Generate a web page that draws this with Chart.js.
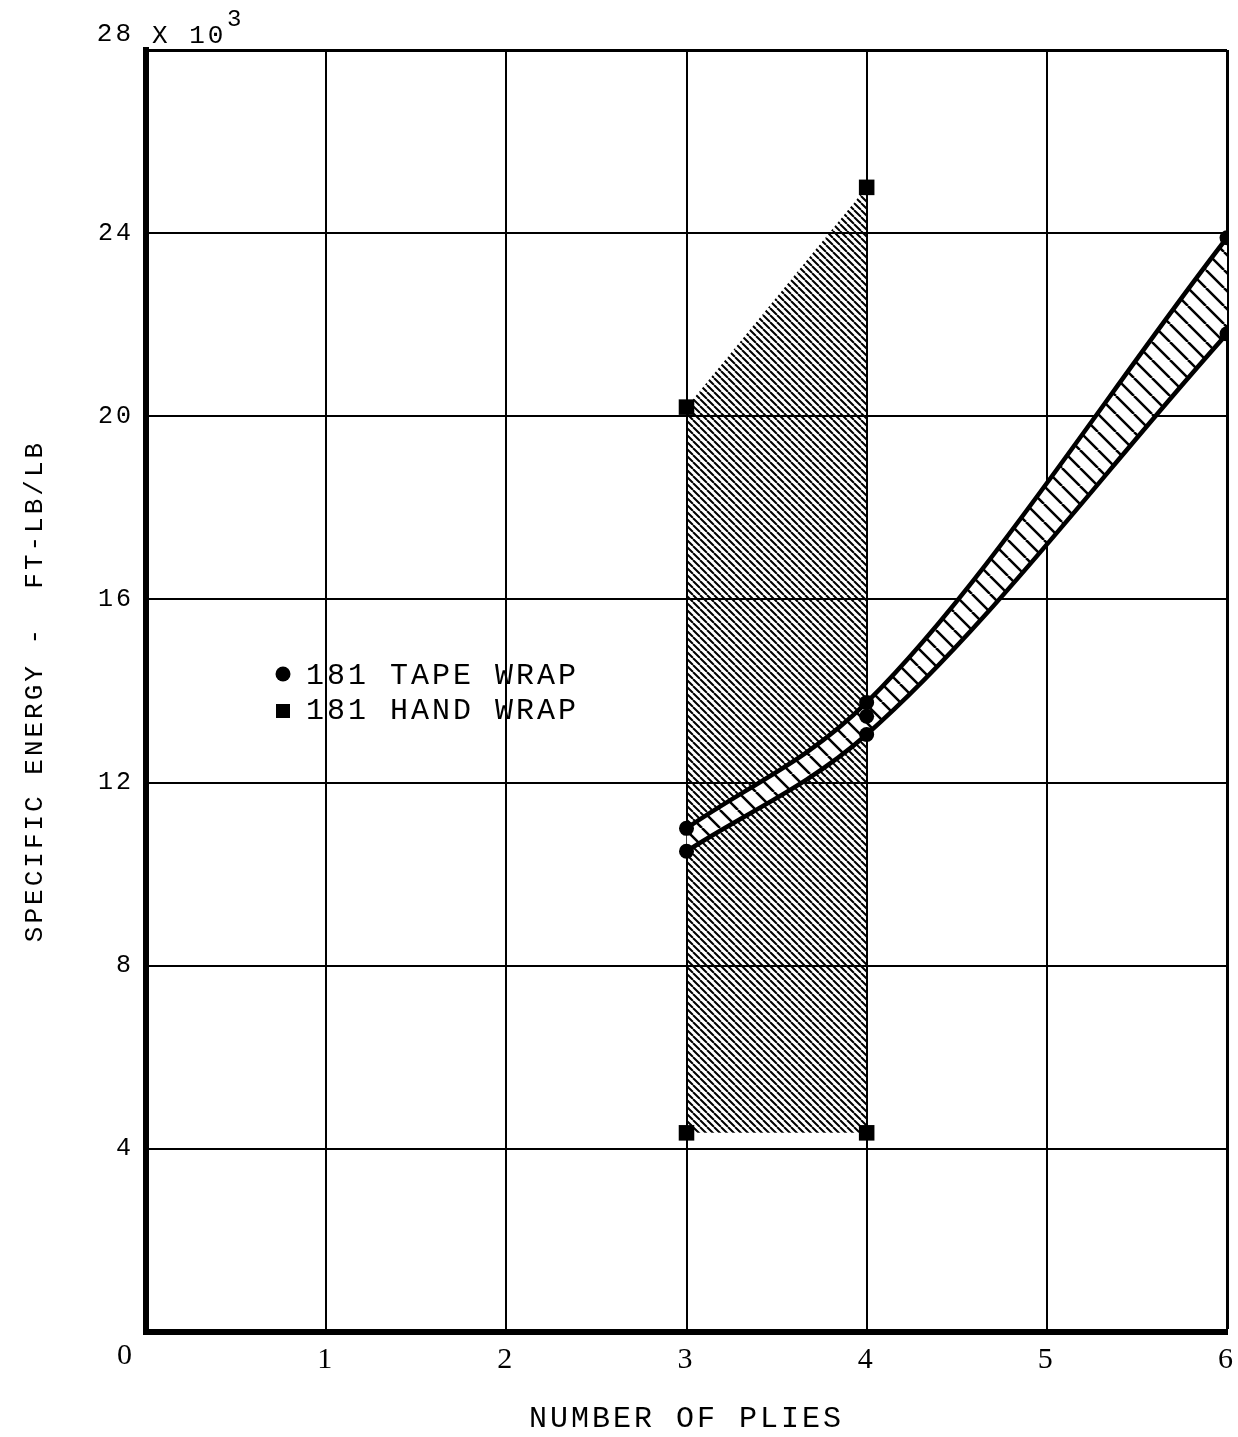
<!DOCTYPE html>
<html>
<head>
<meta charset="utf-8">
<script src="https://cdn.jsdelivr.net/npm/chart.js@4/dist/chart.umd.min.js"></script>
<style>
  html, body { margin: 0; padding: 0; background: #fff; }
  canvas { display: block; }
</style>
</head>
<body>
<canvas id="plies-chart" width="1238" height="1437"></canvas>
<script>
// values (specific energy in thousands of ft-lb/lb)
const plies = [3, 4, 6];
const tapeUpper = [11.0, 13.75, 23.9];
const tapeLower = [10.5, 13.05, 21.8];
const tapeMidPlies = [4];
const tapeMid = [13.45];
const handPlies = [3, 4];
const handUpper = [20.2, 25.0];
const handLower = [4.35, 4.35];
const xTicks = [0, 1, 2, 3, 4, 5, 6];
const yTicks = [0, 4, 8, 12, 16, 20, 24, 28];

const pts = (xs, ys) => xs.map((x, i) => ({x: x, y: ys[i]}));

// diagonal hatch "\" as a repeating pattern
function hatch(size, lw, bg) {
    const c = document.createElement('canvas');
    c.width = size; c.height = size;
    const g = c.getContext('2d');
    if (bg) { g.fillStyle = bg; g.fillRect(0, 0, size, size); }
    g.strokeStyle = '#000';
    g.lineWidth = lw;
    g.beginPath();
    for (let k = -1; k <= 1; k++) {
        g.moveTo(k * size, 0);
        g.lineTo(k * size + size, size);
    }
    g.stroke();
    return g.createPattern(c, 'repeat');
}

const handHatch = hatch(7, 2, null);
const bandHatch = hatch(18, 2.5, '#fff');

const typewriter = 'Liberation Mono';

const textPlugin = {
    id: 'textPlugin',
    beforeDraw(chart) {
        chart.ctx.letterSpacing = '3px';
    },
    afterDraw(chart) {
        const ctx = chart.ctx;
        ctx.save();
        ctx.fillStyle = '#000';
        ctx.textBaseline = 'middle';

        // axis multiplier at the top
        ctx.font = '26px "' + typewriter + '"';
        ctx.textAlign = 'right';
        ctx.fillText('28', 134, 34);
        ctx.textAlign = 'left';
        ctx.fillText('X 10', 152, 36);
        ctx.font = '24px "' + typewriter + '"';
        ctx.fillText('3', 227, 20);

        // shared origin label
        ctx.font = '30px "Liberation Serif"';
        ctx.textAlign = 'center';
        ctx.fillText('0', 126, 1356);

        // legend
        ctx.beginPath();
        ctx.arc(283, 674, 7.5, 0, Math.PI * 2);
        ctx.fill();
        ctx.fillRect(276, 704, 14, 14);
        ctx.font = '30px "' + typewriter + '"';
        ctx.textAlign = 'left';
        ctx.fillText('181 TAPE WRAP', 306, 676);
        ctx.fillText('181 HAND WRAP', 306, 711);
        ctx.restore();
    }
};

new Chart(document.getElementById('plies-chart'), {
    type: 'scatter',
    data: {
        datasets: [{
            label: 'tape mid',
            data: pts(tapeMidPlies, tapeMid),
            pointRadius: 7.5,
            pointBackgroundColor: '#000',
            pointBorderWidth: 0,
            showLine: false
        }, {
            label: '181 TAPE WRAP upper',
            data: pts(plies, tapeUpper),
            showLine: true,
            borderColor: '#000',
            borderWidth: 4.5,
            cubicInterpolationMode: 'monotone',
            pointRadius: 7.5,
            pointBackgroundColor: '#000',
            pointBorderWidth: 0,
            fill: false
        }, {
            label: '181 TAPE WRAP lower',
            data: pts(plies, tapeLower),
            showLine: true,
            borderColor: '#000',
            borderWidth: 4.5,
            cubicInterpolationMode: 'monotone',
            pointRadius: 7.5,
            pointBackgroundColor: '#000',
            pointBorderWidth: 0,
            backgroundColor: bandHatch,
            fill: '-1'
        }, {
            label: '181 HAND WRAP upper',
            data: pts(handPlies, handUpper),
            showLine: true,
            borderColor: 'transparent',
            borderWidth: 0,
            pointStyle: 'rect',
            pointRadius: 11,
            pointBackgroundColor: '#000',
            pointBorderWidth: 0,
            fill: false
        }, {
            label: '181 HAND WRAP lower',
            data: pts(handPlies, handLower),
            showLine: true,
            borderColor: 'transparent',
            borderWidth: 0,
            pointStyle: 'rect',
            pointRadius: 11,
            pointBackgroundColor: '#000',
            pointBorderWidth: 0,
            backgroundColor: handHatch,
            fill: '-1'
        }]
    },
    options: {
        responsive: false,
        animation: false,
        layout: { padding: { top: 50, right: 5, left: 0, bottom: 0 } },
        plugins: {
            legend: { display: false },
            tooltip: { enabled: false }
        },
        scales: {
            x: {
                type: 'linear',
                min: 0,
                max: 6,
                afterFit: s => { s.height = 105; s.paddingLeft = 0; s.paddingRight = 0; },
                afterBuildTicks: s => { s.ticks = xTicks.map(v => ({value: v})); },
                grid: {
                    color: '#000',
                    lineWidth: c => (c.tick && c.tick.value === 6) ? 3 : 2,
                    drawTicks: false
                },
                border: { color: '#000', width: 6 },
                ticks: {
                    color: '#000',
                    padding: 10,
                    font: { family: 'Liberation Serif', size: 30 },
                    callback: v => v === 0 ? '' : v
                },
                title: {
                    display: true,
                    text: 'NUMBER OF PLIES',
                    color: '#000',
                    font: { family: typewriter, size: 30 },
                    padding: { top: 0, bottom: 0 }
                }
            },
            y: {
                type: 'linear',
                min: 0,
                max: 28,
                afterFit: s => { s.width = 146; },
                afterBuildTicks: s => { s.ticks = yTicks.map(v => ({value: v})); },
                grid: {
                    color: '#000',
                    lineWidth: c => (c.tick && c.tick.value === 28) ? 3 : 2,
                    drawTicks: false
                },
                border: { color: '#000', width: 6 },
                ticks: {
                    color: '#000',
                    padding: 12,
                    font: { family: typewriter, size: 25 },
                    callback: v => (v === 0 || v === 28) ? '' : v
                },
                title: {
                    display: true,
                    text: 'SPECIFIC ENERGY -  FT-LB/LB',
                    color: '#000',
                    font: { family: typewriter, size: 26 },
                    padding: { top: 20, bottom: 0 }
                }
            }
        }
    },
    plugins: [textPlugin]
});
</script>
</body>
</html>
